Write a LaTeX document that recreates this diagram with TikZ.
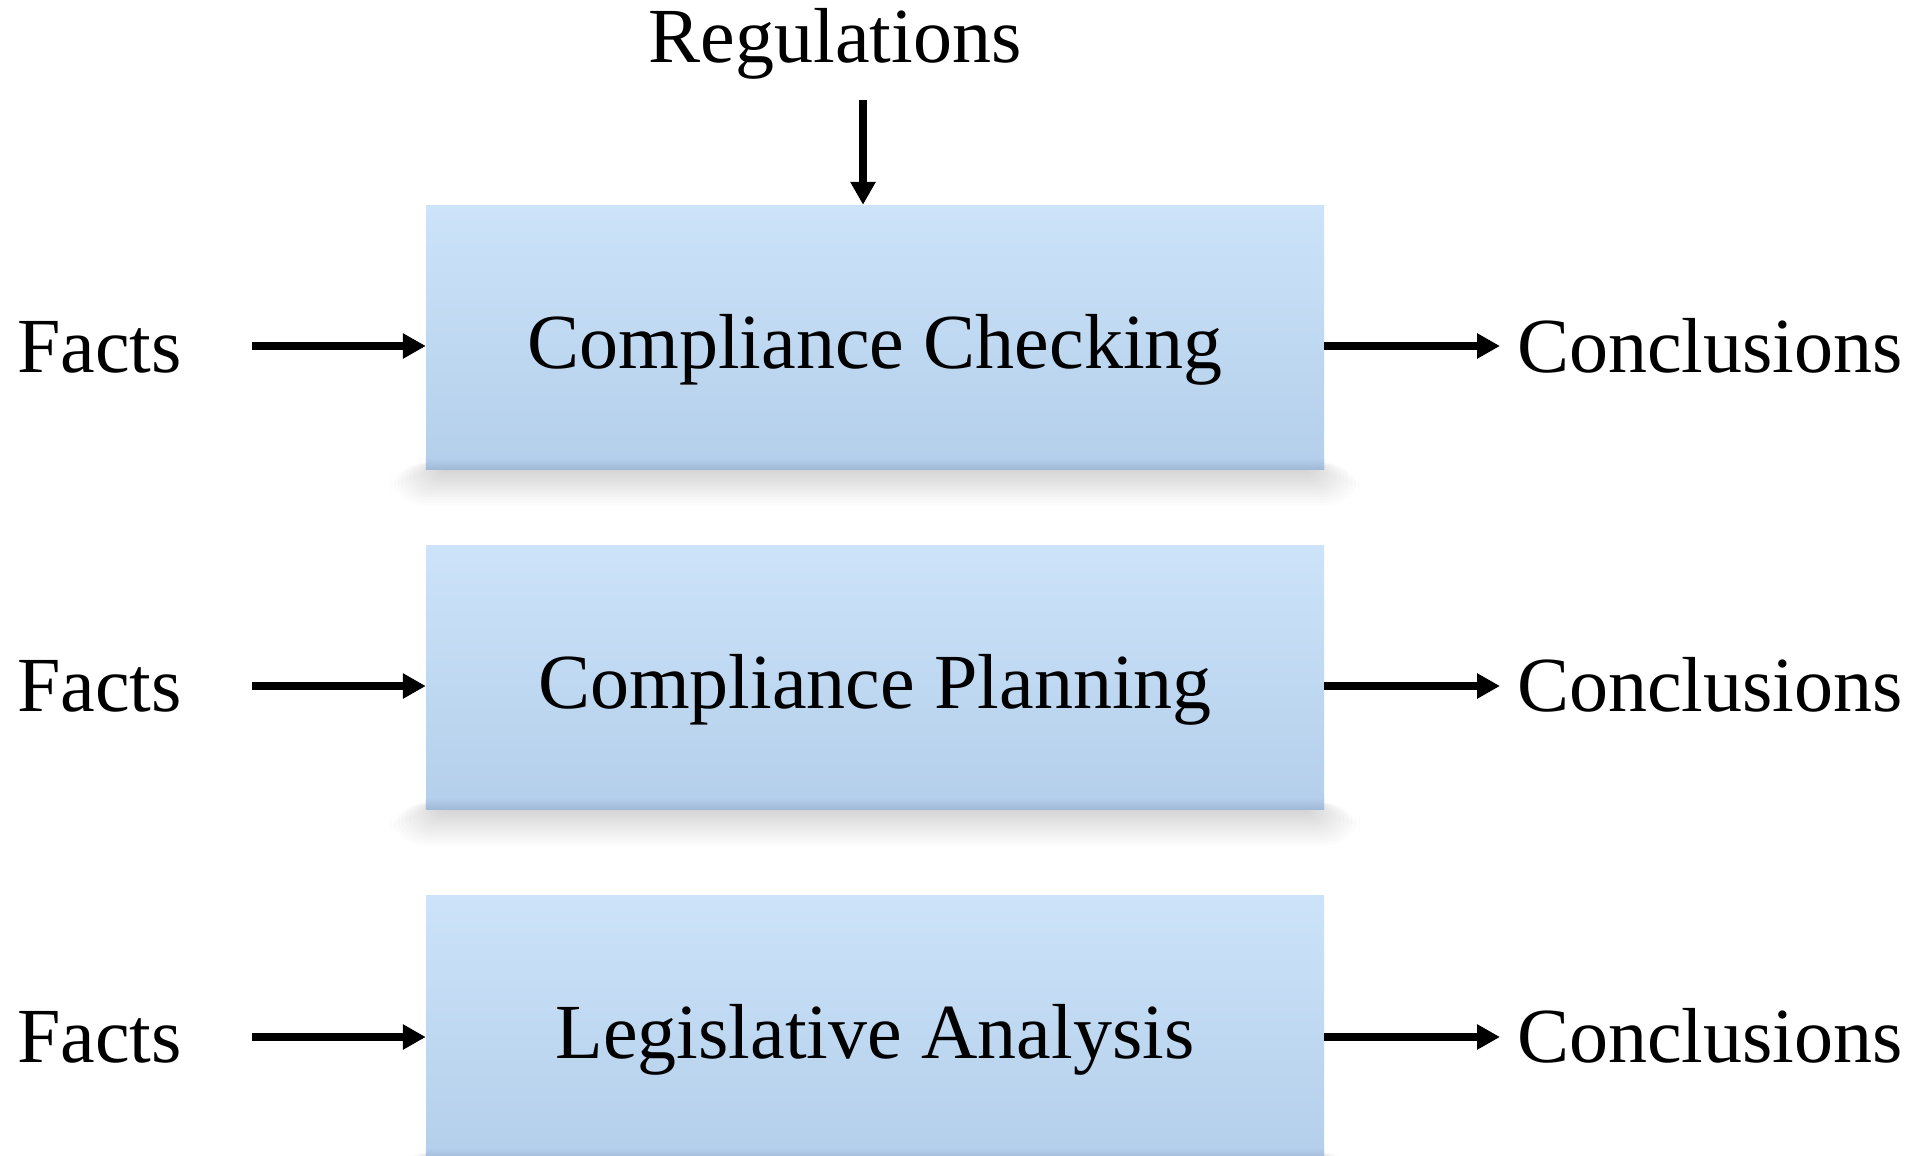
\documentclass[tikz,border=0pt]{standalone}
\usepackage{fontspec}
\setmainfont{Liberation Serif}
\usetikzlibrary{arrows.meta}
\definecolor{boxtop}{HTML}{CCE3F9}
\definecolor{boxbot}{HTML}{B4CFEB}
\definecolor{boxedge}{HTML}{9FB9D7}
\tikzset{
  lbl/.style={font=\fontsize{78}{90}\selectfont, inner sep=0pt, anchor=base west},
  procbox/.style={rectangle, inner sep=0pt, minimum width=898pt, minimum height=264pt,
    text height=62pt, text depth=0pt, top color=boxtop, bottom color=boxbot,
    font=\fontsize{78}{90}\selectfont},
  arr/.style={line width=8pt, -{Triangle[length=23pt,width=24pt]}},
  shadowlayer/.style={fill=black, fill opacity=0.012, draw=none}
}
\begin{document}
\begin{tikzpicture}[x=1pt,y=-1pt]
\useasboundingbox (0,0) rectangle (1919,1156);
\fill[white] (0,0) rectangle (1919,1156);

% box positions (shadows first)
\coordinate (c1) at (875,337);
\coordinate (c2) at (875,677);
\coordinate (c3) at (875,1027);
\foreach \i in {1,2,3}{
  \foreach \k in {1,...,14}{
    \fill[shadowlayer, rounded corners=\k*2.5pt]
      ([xshift=-449pt+20pt-\k*4pt, yshift=-132pt+6pt]c\i) rectangle
      ([xshift=449pt-20pt+\k*4pt, yshift=-132pt-\k*2.6pt]c\i);
  }
}

% Regulations
\node[lbl, anchor=base] (reg) at (835,63) {Regulations};
\coordinate (regstart) at (863,100);

% boxes
\node[procbox] (box1) at (c1) {Compliance Checking};
\node[procbox] (box2) at (c2) {Compliance Planning};
\node[procbox] (box3) at (c3) {Legislative Analysis};
\foreach \b in {box1,box2,box3}{
  \shade[top color=boxbot, bottom color=boxedge]
    ([yshift=11pt]\b.south west) rectangle (\b.south east);
}

% Facts
\node[lbl] (facts1) at (17,372) {Facts};
\node[lbl] (facts2) at (17,711) {Facts};
\node[lbl] (facts3) at (17,1062) {Facts};
% Conclusions
\node[lbl] (concl1) at (1517,372) {Conclusions};
\node[lbl] (concl2) at (1517,711) {Conclusions};
\node[lbl] (concl3) at (1517,1062) {Conclusions};

% arrow ends
\coordinate (fa1) at (252,346);
\coordinate (fa2) at (252,686);
\coordinate (fa3) at (252,1037);
\coordinate (ca1) at (1500,346);
\coordinate (ca2) at (1500,686);
\coordinate (ca3) at (1500,1037);

\draw[arr] (regstart) -- (regstart |- box1.north);
\foreach \i in {1,2,3}{
  \draw[arr] (fa\i) -- (fa\i -| box\i.west);
  \draw[arr] (fa\i -| box\i.east) -- (ca\i);
}
\end{tikzpicture}
\end{document}
